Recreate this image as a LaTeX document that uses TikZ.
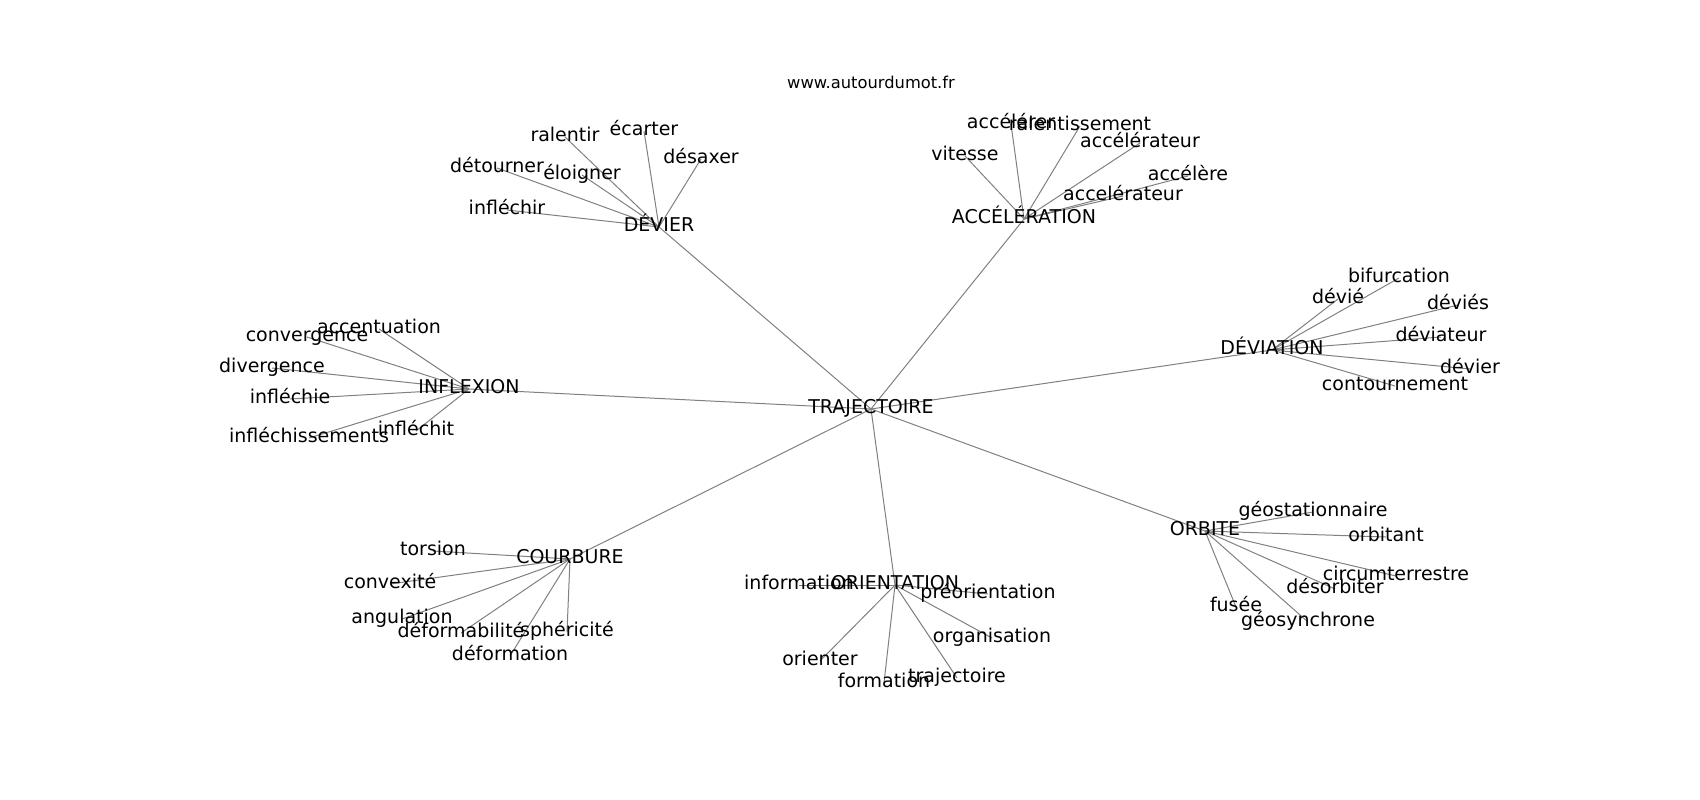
\documentclass[tikz,border=0pt]{standalone}
\usepackage{fontspec}
\setmainfont{DejaVu Sans}
\begin{document}
\begin{tikzpicture}[x=1pt,y=-1pt,
  lbl/.style={font=\fontsize{19}{19}\selectfont, inner sep=0pt, text height=14.4pt, text depth=4.5pt, anchor=center},
  ttl/.style={font=\fontsize{16.3}{16.3}\selectfont, inner sep=0pt, anchor=center},
  edge/.style={draw=gray, line width=1pt}]
\useasboundingbox (0,0) rectangle (1700,800);
% hubs
\coordinate (tra) at (871,409);
\coordinate (dev) at (659,227);
\coordinate (acc) at (1024,219);
\coordinate (inf) at (469,389);
\coordinate (dvt) at (1272,350);
\coordinate (cou) at (570,559);
\coordinate (ori) at (895,585);
\coordinate (orb) at (1205,531);
% devier leaves
\coordinate (ral) at (565,137);
\coordinate (eca) at (644,131);
\coordinate (dsx) at (701,159);
\coordinate (dto) at (497,168);
\coordinate (elo) at (582,175);
\coordinate (ifr) at (507,210);
% acceleration leaves
\coordinate (acr) at (1011,124);
\coordinate (rlt) at (1080,126);
\coordinate (ac1) at (1140,143);
\coordinate (vit) at (965,156);
\coordinate (acl) at (1188,176);
\coordinate (ac2) at (1123,196);
% inflexion leaves
\coordinate (act) at (379,329);
\coordinate (cvg) at (307,337);
\coordinate (dvg) at (272,368);
\coordinate (ife) at (290,399);
\coordinate (ifs) at (309,438);
\coordinate (ift) at (416,431);
% deviation leaves
\coordinate (bif) at (1399,278);
\coordinate (dvi) at (1338,299);
\coordinate (dvs) at (1458,305);
\coordinate (dvr) at (1441,337);
\coordinate (dvz) at (1470,369);
\coordinate (ctn) at (1395,386);
% courbure leaves
\coordinate (tor) at (433,551);
\coordinate (cvx) at (390,584);
\coordinate (ang) at (402,619);
\coordinate (dfb) at (461,633);
\coordinate (sph) at (567,632);
\coordinate (dfm) at (510,656);
% orientation leaves
\coordinate (ifo) at (799,585);
\coordinate (pro) at (988,594);
\coordinate (org) at (992,638);
\coordinate (oer) at (820,661);
\coordinate (frm) at (884,683);
\coordinate (trj) at (957,678);
% orbite leaves
\coordinate (geo) at (1313,512);
\coordinate (obt) at (1386,537);
\coordinate (cir) at (1396,576);
\coordinate (dso) at (1335,589);
\coordinate (fus) at (1236,607);
\coordinate (gsy) at (1308,622);
% edges
\foreach \h in {dev,acc,inf,dvt,cou,ori,orb} \draw[edge] (tra) -- (\h);
\foreach \l in {ral,eca,dsx,dto,elo,ifr} \draw[edge] (dev) -- (\l);
\foreach \l in {acr,rlt,ac1,vit,acl,ac2} \draw[edge] (acc) -- (\l);
\foreach \l in {act,cvg,dvg,ife,ifs,ift} \draw[edge] (inf) -- (\l);
\foreach \l in {bif,dvi,dvs,dvr,dvz,ctn} \draw[edge] (dvt) -- (\l);
\foreach \l in {tor,cvx,ang,dfb,sph,dfm} \draw[edge] (cou) -- (\l);
\foreach \l in {ifo,pro,org,oer,frm,trj} \draw[edge] (ori) -- (\l);
\foreach \l in {geo,obt,cir,dso,fus,gsy} \draw[edge] (orb) -- (\l);
% labels
\node[ttl] (title) at (871,82) {www.autourdumot.fr};
\node[lbl] (tra-t) at (tra) {TRAJECTOIRE};
\node[lbl] (dev-t) at (dev) {DÉVIER};
\node[lbl] (acc-t) at (acc) {ACCÉLÉRATION};
\node[lbl] (inf-t) at (inf) {INFLEXION};
\node[lbl] (dvt-t) at (dvt) {DÉVIATION};
\node[lbl] (cou-t) at (cou) {COURBURE};
\node[lbl] (ori-t) at (ori) {ORIENTATION};
\node[lbl] (orb-t) at (orb) {ORBITE};
\node[lbl] at (ral) {ralentir};
\node[lbl] at (eca) {écarter};
\node[lbl] at (dsx) {désaxer};
\node[lbl] at (dto) {détourner};
\node[lbl] at (elo) {éloigner};
\node[lbl] at (ifr) {infléchir};
\node[lbl] at (acr) {accélérer};
\node[lbl] at (rlt) {ralentissement};
\node[lbl] at (ac1) {accélérateur};
\node[lbl] at (vit) {vitesse};
\node[lbl] at (acl) {accélère};
\node[lbl] at (ac2) {accelérateur};
\node[lbl] at (act) {accentuation};
\node[lbl] at (cvg) {convergence};
\node[lbl] at (dvg) {divergence};
\node[lbl] at (ife) {infléchie};
\node[lbl] at (ifs) {infléchissements};
\node[lbl] at (ift) {infléchit};
\node[lbl] at (bif) {bifurcation};
\node[lbl] at (dvi) {dévié};
\node[lbl] at (dvs) {déviés};
\node[lbl] at (dvr) {déviateur};
\node[lbl] at (dvz) {dévier};
\node[lbl] at (ctn) {contournement};
\node[lbl] at (tor) {torsion};
\node[lbl] at (cvx) {convexité};
\node[lbl] at (ang) {angulation};
\node[lbl] at (dfb) {déformabilité};
\node[lbl] at (sph) {sphéricité};
\node[lbl] at (dfm) {déformation};
\node[lbl] at (ifo) {information};
\node[lbl] at (pro) {préorientation};
\node[lbl] at (org) {organisation};
\node[lbl] at (oer) {orienter};
\node[lbl] at (frm) {formation};
\node[lbl] at (trj) {trajectoire};
\node[lbl] at (geo) {géostationnaire};
\node[lbl] at (obt) {orbitant};
\node[lbl] at (cir) {circumterrestre};
\node[lbl] at (dso) {désorbiter};
\node[lbl] at (fus) {fusée};
\node[lbl] at (gsy) {géosynchrone};
\end{tikzpicture}
\end{document}
